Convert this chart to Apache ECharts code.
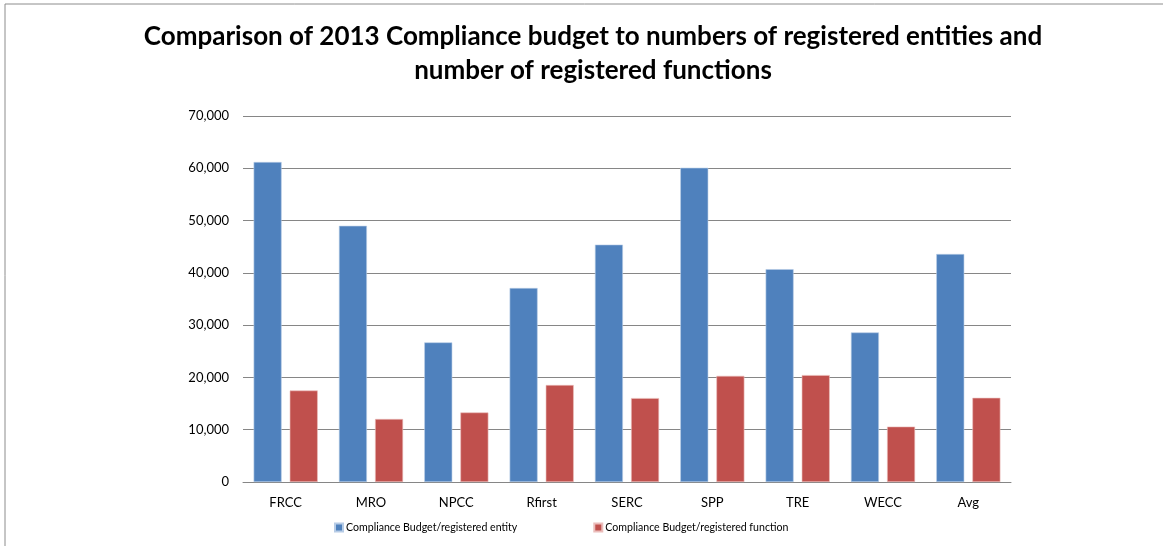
<!DOCTYPE html>
<html>
<head>
<meta charset="utf-8">
<script src="https://cdn.jsdelivr.net/npm/echarts@6/dist/echarts.min.js"></script>
<style>
	html,body{margin:0;padding:0;background:#fff;}
	#main{width:1163px;height:546px;}
</style>
</head>
<body>
<div id="main"></div>
<script>
	var categories = ["FRCC","MRO","NPCC","Rfirst","SERC","SPP","TRE","WECC","Avg"];
	var perEntity = [61200,49000,26700,37100,45400,60100,40700,28600,43600];
	var perFunction = [17500,12050,13300,18550,16050,20300,20450,10600,16100];
	var seriesNames = ["Compliance Budget/registered entity","Compliance Budget/registered function"];
	var titleText = "Comparison of 2013 Compliance budget to numbers of registered entities and\nnumber of registered functions";

	var fontFam = "Lato, 'Open Sans', sans-serif";
	var myChart = echarts.init(document.getElementById("main"));
	var option = {
		animation: false,
		title: {
			text: titleText,
			left: 588,
			textAlign: "center",
			top: 15,
			textStyle: {
				fontFamily: fontFam,
				fontWeight: "bold",
				fontSize: 26,
				lineHeight: 34,
				color: "#000"
			}
		},
		graphic: [{
			type: "rect",
			shape: {x: 5, y: 4, width: 1200, height: 600},
			style: {fill: "none", stroke: "#8c8c8c", lineWidth: 1}
		}],
		legend: {
			left: 334,
			top: 522,
			padding: 0,
			itemWidth: 8,
			itemHeight: 8,
			itemGap: 76,
			icon: "rect",
			textStyle: {fontFamily: fontFam, fontSize: 10.6, color: "#000", padding: [0,0,0,-2]},
			data: seriesNames
		},
		grid: {left: 243, right: 152, top: 116, bottom: 64},
		xAxis: {
			type: "category",
			data: categories,
			axisLine: {lineStyle: {color: "#868686"}},
			axisTick: {show: false},
			axisLabel: {fontFamily: fontFam, fontSize: 13, color: "#000", margin: 14}
		},
		yAxis: {
			type: "value",
			min: 0,
			max: 70000,
			interval: 10000,
			axisLine: {show: false},
			axisTick: {show: false},
			splitLine: {lineStyle: {color: "#868686"}},
			axisLabel: {
				fontFamily: fontFam, fontSize: 13, color: "#000", margin: 14,
				formatter: function(v){ return v.toLocaleString("en-US"); }
			}
		},
		series: [
			{
				name: seriesNames[0],
				type: "bar",
				data: perEntity,
				barWidth: 28,
				barGap: "29%",
				itemStyle: {color: "#4F81BD", borderColor: "#b7cce6", borderWidth: 0.6}
			},
			{
				name: seriesNames[1],
				type: "bar",
				data: perFunction,
				barWidth: 28,
				itemStyle: {color: "#C0504D", borderColor: "#ebbdbb", borderWidth: 0.6}
			}
		]
	};
	myChart.setOption(option);
</script>
</body>
</html>
